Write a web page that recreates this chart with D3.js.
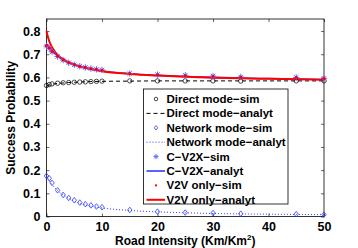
<!DOCTYPE html>
<html>
<head>
<meta charset="utf-8">
<script src="https://cdn.jsdelivr.net/npm/d3@7"></script>
<style>
  body { margin: 0; background: #fff; }
  svg { font-family: "Liberation Sans", Arial, sans-serif; font-weight: bold; }
</style>
</head>
<body>
<svg id="chart" width="358" height="248"></svg>
<script>
// sim points (x positions)
var simX = [0, 0.5, 1, 2, 3, 4, 5, 6, 7, 8, 9, 10, 15, 20, 25, 30, 35, 45, 50];
var directSim = [0.565, 0.569, 0.572, 0.575, 0.577, 0.578, 0.579, 0.580, 0.581, 0.582, 0.583, 0.584, 0.585, 0.585, 0.585, 0.585, 0.584, 0.585, 0.585];
var networkSim = [0.175, 0.165, 0.145, 0.113, 0.093, 0.080, 0.070, 0.060, 0.053, 0.048, 0.043, 0.040, 0.028, 0.021, 0.017, 0.015, 0.012, 0.010, 0.008];
var cv2xSim = [0.735, 0.725, 0.710, 0.690, 0.675, 0.663, 0.655, 0.648, 0.643, 0.638, 0.635, 0.632, 0.617, 0.612, 0.609, 0.606, 0.602, 0.600, 0.596];
var v2vSim = [0.737, 0.727, 0.712, 0.692, 0.676, 0.664, 0.655, 0.648, 0.643, 0.638, 0.635, 0.631, 0.616, 0.611, 0.608, 0.605, 0.601, 0.599, 0.595];

// analytical curves
var anaX = [0, 0.25, 0.5, 1, 1.5, 2, 3, 4, 5, 6, 8, 10, 15, 20, 25, 30, 35, 40, 45, 50];
var directAna = [0.562, 0.565, 0.567, 0.570, 0.572, 0.574, 0.576, 0.578, 0.579, 0.580, 0.582, 0.583, 0.584, 0.585, 0.585, 0.585, 0.585, 0.585, 0.585, 0.585];
var networkAna = [0.175, 0.165, 0.155, 0.138, 0.124, 0.112, 0.093, 0.078, 0.066, 0.057, 0.045, 0.037, 0.026, 0.020, 0.016, 0.013, 0.011, 0.010, 0.009, 0.008];
var cv2xAna = [0.745, 0.737, 0.729, 0.715, 0.703, 0.693, 0.676, 0.664, 0.655, 0.647, 0.636, 0.628, 0.616, 0.609, 0.604, 0.600, 0.597, 0.595, 0.593, 0.591];
var v2vAna = [0.800, 0.775, 0.756, 0.730, 0.711, 0.697, 0.678, 0.665, 0.655, 0.647, 0.636, 0.627, 0.615, 0.608, 0.603, 0.599, 0.596, 0.594, 0.592, 0.590];

var xTicks = [0, 10, 20, 30, 40, 50];
var yTicks = [0, 0.1, 0.2, 0.3, 0.4, 0.5, 0.6, 0.7, 0.8];
var legendLabels = ['Direct mode\u2212sim', 'Direct mode\u2212analyt', 'Network mode\u2212sim', 'Network mode\u2212analyt',
  'C\u2212V2X\u2212sim', 'C\u2212V2X\u2212analyt', 'V2V only\u2212sim', 'V2V only\u2212analyt'];

var blue = '#2b3cff';
var red = '#ff0000';

var svg = d3.select('#chart');
var pL = 46.5, pR = 324, pT = 19, pB = 216.5;

var x = d3.scaleLinear().domain([0, 50]).range([pL, pR]);
var y = d3.scaleLinear().domain([0, 0.852]).range([pB, pT]);

// 枠
svg.append('rect')
  .attr('x', pL).attr('y', pT)
  .attr('width', pR - pL).attr('height', pB - pT)
  .attr('fill', '#fff').attr('stroke', '#000').attr('stroke-width', 0.8);

// axes (inner ticks, also top / right)
var fmtY = function(d) { return d === 0 ? '0' : d3.format('.1f')(d); };
var gx = svg.append('g').attr('transform', 'translate(0,' + pB + ')')
  .call(d3.axisBottom(x).tickValues(xTicks).tickSizeInner(-3).tickSizeOuter(0).tickPadding(6));
var gy = svg.append('g').attr('transform', 'translate(' + pL + ',0)')
  .call(d3.axisLeft(y).tickValues(yTicks).tickFormat(fmtY).tickSizeInner(-3).tickSizeOuter(0).tickPadding(6));
svg.append('g').attr('transform', 'translate(0,' + pT + ')')
  .call(d3.axisTop(x).tickValues(xTicks).tickSizeInner(-3).tickSizeOuter(0).tickFormat(''));
svg.append('g').attr('transform', 'translate(' + pR + ',0)')
  .call(d3.axisRight(y).tickValues(yTicks).tickSizeInner(-3).tickSizeOuter(0).tickFormat(''));
svg.selectAll('.domain').remove();
svg.selectAll('.tick line').attr('stroke', '#000').attr('stroke-width', 0.6);
gx.selectAll('text').attr('font-size', 12.5).attr('font-weight', 'bold').attr('fill', '#000')
  .attr('font-family', '"Liberation Sans", Arial, sans-serif');
gy.selectAll('text').attr('font-size', 12.5).attr('font-weight', 'bold').attr('fill', '#000')
  .attr('font-family', '"Liberation Sans", Arial, sans-serif');

// axis titles
var xt = svg.append('text').attr('x', (pL + pR) / 2).attr('y', 245)
  .attr('text-anchor', 'middle').attr('font-size', 12).text('Road Intensity (Km/Km');
xt.append('tspan').attr('font-size', 8).attr('dy', -5).text('2');
xt.append('tspan').attr('dy', 5).text(')');
svg.append('text').attr('transform', 'translate(15,' + ((pT + pB) / 2) + ') rotate(-90)')
  .attr('text-anchor', 'middle').attr('font-size', 12).text('Success Probability');

var plot = svg.append('g');
var line = function(xs) {
  return d3.line().x(function(d, i) { return x(xs[i]); }).y(function(d) { return y(d); }).curve(d3.curveMonotoneX);
};

// analytic lines
plot.append('path').datum(networkAna).attr('d', line(anaX)).attr('fill', 'none')
  .attr('stroke', blue).attr('stroke-width', 1).attr('stroke-dasharray', '1,2');
plot.append('path').datum(directAna).attr('d', line(anaX)).attr('fill', 'none')
  .attr('stroke', '#000').attr('stroke-width', 1).attr('stroke-dasharray', '4,3');
plot.append('path').datum(cv2xAna).attr('d', line(anaX)).attr('fill', 'none')
  .attr('stroke', blue).attr('stroke-width', 1.6);
plot.append('path').datum(v2vAna).attr('d', line(anaX)).attr('fill', 'none')
  .attr('stroke', red).attr('stroke-width', 2);

// markers
function circles(g, cx, cy, k) {
  k = k || 1;
  g.append('circle').attr('cx', cx).attr('cy', cy).attr('r', 2.2 * k)
    .attr('fill', 'none').attr('stroke', '#000').attr('stroke-width', 0.7);
}
function diamond(g, cx, cy, k) {
  k = k || 1;
  var a = 2.8 * k, b = 2.2 * k;
  g.append('path').attr('d', 'M' + cx + ',' + (cy - a) + 'L' + (cx + b) + ',' + cy + 'L' + cx + ',' + (cy + a) + 'L' + (cx - b) + ',' + cy + 'Z')
    .attr('fill', 'none').attr('stroke', blue).attr('stroke-width', 0.8);
}
function asterisk(g, cx, cy, k) {
  var s = 3.2 * (k || 1);
  var p = 'M' + (cx - s) + ',' + cy + 'H' + (cx + s) + 'M' + cx + ',' + (cy - s) + 'V' + (cy + s) +
    'M' + (cx - s * 0.7) + ',' + (cy - s * 0.7) + 'L' + (cx + s * 0.7) + ',' + (cy + s * 0.7) +
    'M' + (cx - s * 0.7) + ',' + (cy + s * 0.7) + 'L' + (cx + s * 0.7) + ',' + (cy - s * 0.7);
  g.append('path').attr('d', p).attr('fill', 'none').attr('stroke', '#6a6aff').attr('stroke-width', 1);
}
function dot(g, cx, cy, k) {
  g.append('circle').attr('cx', cx).attr('cy', cy).attr('r', 1.6 * (k || 1)).attr('fill', red);
}

simX.forEach(function(d, i) {
  circles(plot, x(d), y(directSim[i]));
  diamond(plot, x(d), y(networkSim[i]));
  asterisk(plot, x(d), y(cv2xSim[i]));
  dot(plot, x(d), y(v2vSim[i]));
});

// legend
var lg = svg.append('g');
var lx = 143.5, ly = 89, lw = 144.5, lh = 115;
lg.append('rect').attr('x', lx).attr('y', ly).attr('width', lw).attr('height', lh)
  .attr('fill', '#fff').attr('stroke', '#000').attr('stroke-width', 0.8);
var rowH = 14.4;
legendLabels.forEach(function(t, i) {
  var cy = ly + 10 + i * rowH;
  var mx = 156;
  if (i === 0) circles(lg, mx, cy, 0.8);
  if (i === 1) lg.append('line').attr('x1', 146.5).attr('x2', 165).attr('y1', cy).attr('y2', cy)
    .attr('stroke', '#000').attr('stroke-width', 1).attr('stroke-dasharray', '4,3');
  if (i === 2) diamond(lg, mx, cy, 0.8);
  if (i === 3) lg.append('line').attr('x1', 146.5).attr('x2', 165).attr('y1', cy).attr('y2', cy)
    .attr('stroke', blue).attr('stroke-width', 1).attr('stroke-dasharray', '1,2');
  if (i === 4) asterisk(lg, mx, cy, 0.8);
  if (i === 5) lg.append('line').attr('x1', 146.5).attr('x2', 165).attr('y1', cy).attr('y2', cy)
    .attr('stroke', blue).attr('stroke-width', 1.6);
  if (i === 6) dot(lg, mx, cy, 0.7);
  if (i === 7) lg.append('line').attr('x1', 146.5).attr('x2', 165).attr('y1', cy).attr('y2', cy)
    .attr('stroke', red).attr('stroke-width', 2);
  lg.append('text').attr('x', 166.5).attr('y', cy + 4).attr('font-size', 11.5).text(t);
});
</script>
</body>
</html>
